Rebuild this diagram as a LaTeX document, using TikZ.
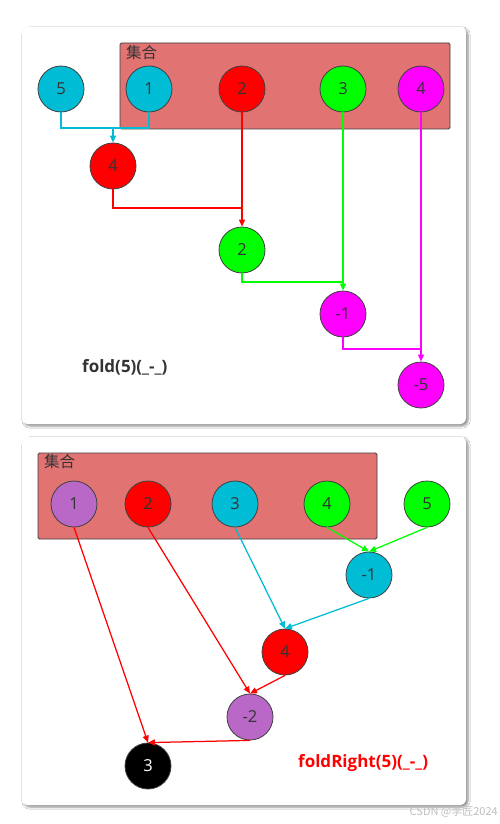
\documentclass[tikz,border=0pt]{standalone}
\usepackage{fontspec}
\setmainfont{Open Sans}
\newfontfamily\cjk{Noto Sans CJK SC}
\usetikzlibrary{arrows.meta,shadows.blur}
\definecolor{ccyan}{RGB}{0,188,212}
\definecolor{cred}{RGB}{255,0,0}
\definecolor{cgreen}{RGB}{0,255,0}
\definecolor{cmag}{RGB}{255,0,255}
\definecolor{cpurple}{RGB}{186,104,200}
\definecolor{cset}{RGB}{226,115,115}
\definecolor{cborder}{RGB}{64,64,64}
\definecolor{ctext}{RGB}{51,51,51}
\tikzset{
  panel/.style={draw=none, fill=white, rounded corners=6pt,
    blur shadow={shadow xshift=2pt, shadow yshift=-2pt, shadow blur steps=6, shadow opacity=45}},
  setbox/.style={draw=cborder, fill=cset, line width=0.9pt, rounded corners=1.5pt},
  ball/.style={circle, draw=cborder, line width=0.8pt, minimum size=46pt, inner sep=0pt,
    font=\fontsize{16.5}{16.5}\selectfont, text=ctext},
  wire/.style={line width=1.25pt},
  conn/.style={line width=1.25pt, -{Triangle[length=7pt,width=6pt]}},
  settitle/.style={anchor=north west, inner sep=0pt, text=ctext, font=\cjk\fontsize{15.5}{15.5}\selectfont},
  caption/.style={anchor=west, inner sep=0pt, font=\bfseries\fontsize{17}{17}\selectfont}
}
\begin{document}
\begin{tikzpicture}[x=1pt,y=-1pt]
\useasboundingbox (0,0) rectangle (499,824);
\fill[white] (0,0) rectangle (499,824);
% ---------- top panel ----------
\node[panel, minimum width=444pt, minimum height=397pt, inner sep=0pt] (p1) at (244,225.5) {};
\node[setbox, minimum width=330pt, minimum height=86pt, inner sep=0pt] (s1) at (285,86) {};
\node[settitle] (t1) at (126,45) {集合};
\node[ball, fill=ccyan] (a5) at (61,89) {5};
\node[ball, fill=ccyan] (a1) at (149,89) {1};
\node[ball, fill=cred] (a2) at (242,89) {2};
\node[ball, fill=cgreen] (a3) at (343,89) {3};
\node[ball, fill=cmag] (a4) at (421,89) {4};
\node[ball, fill=cred] (r4) at (113,166) {4};
\node[ball, fill=cgreen] (r2) at (242,250) {2};
\node[ball, fill=cmag] (rm1) at (343,314) {-1};
\node[ball, fill=cmag] (rm5) at (421,385) {-5};
\node[caption, text=ctext] (c1) at (82,367) {fold(5)(\_-\_)};
% connectors top
\draw[ccyan, wire] (a5.south) |- (113,128);
\draw[ccyan, wire] (a1.south) |- (113,128);
\draw[ccyan, conn] (113,128) -- (r4.north);
\draw[cred, wire] (r4.south) |- (242,208);
\draw[cred, conn] (a2.south) -- (r2.north);
\draw[cgreen, wire] (r2.south) |- (343,282);
\draw[cgreen, conn] (a3.south) -- (rm1.north);
\draw[cmag, wire] (rm1.south) |- (421,349);
\draw[cmag, conn] (a4.south) -- (rm5.north);
% ---------- bottom panel ----------
\node[panel, minimum width=444pt, minimum height=368pt, inner sep=0pt] (p2) at (244,621) {};
\node[setbox, minimum width=339pt, minimum height=86pt, inner sep=0pt] (s2) at (207.5,496) {};
\node[settitle] (t2) at (44,454) {集合};
\node[ball, fill=cpurple] (b1) at (74,504) {1};
\node[ball, fill=cred] (b2) at (148,504) {2};
\node[ball, fill=ccyan] (b3) at (235,504) {3};
\node[ball, fill=cgreen] (b4) at (327,504) {4};
\node[ball, fill=cgreen] (b5) at (427,504) {5};
\node[ball, fill=ccyan] (q1) at (369,575) {-1};
\node[ball, fill=cred] (q4) at (285,652) {4};
\node[ball, fill=cpurple] (q2) at (250,717) {-2};
\node[ball, fill=black, text=white] (q3) at (148,766) {3};
\node[caption, text=cred] (c2) at (298,763) {foldRight(5)(\_-\_)};
% connectors bottom
\draw[cgreen, conn] (b4.south) -- (q1.north);
\draw[cgreen, conn] (b5.south) -- (q1.north);
\draw[ccyan, conn] (b3.south) -- (q4.north);
\draw[ccyan, conn] (q1.south) -- (q4.north);
\draw[cred, conn] (b2.south) -- (q2.north);
\draw[cred, conn] (q4.south) -- (q2.north);
\draw[cred, conn] (b1.south) -- (q3.north);
\draw[cred, conn] (q2.south) -- (q3.north);
% watermark
\node[anchor=east, inner sep=0pt, text=black!25, font=\cjk\fontsize{11}{11}\selectfont] (wm) at (498,812) {CSDN @李匠2024};
\end{tikzpicture}
\end{document}
